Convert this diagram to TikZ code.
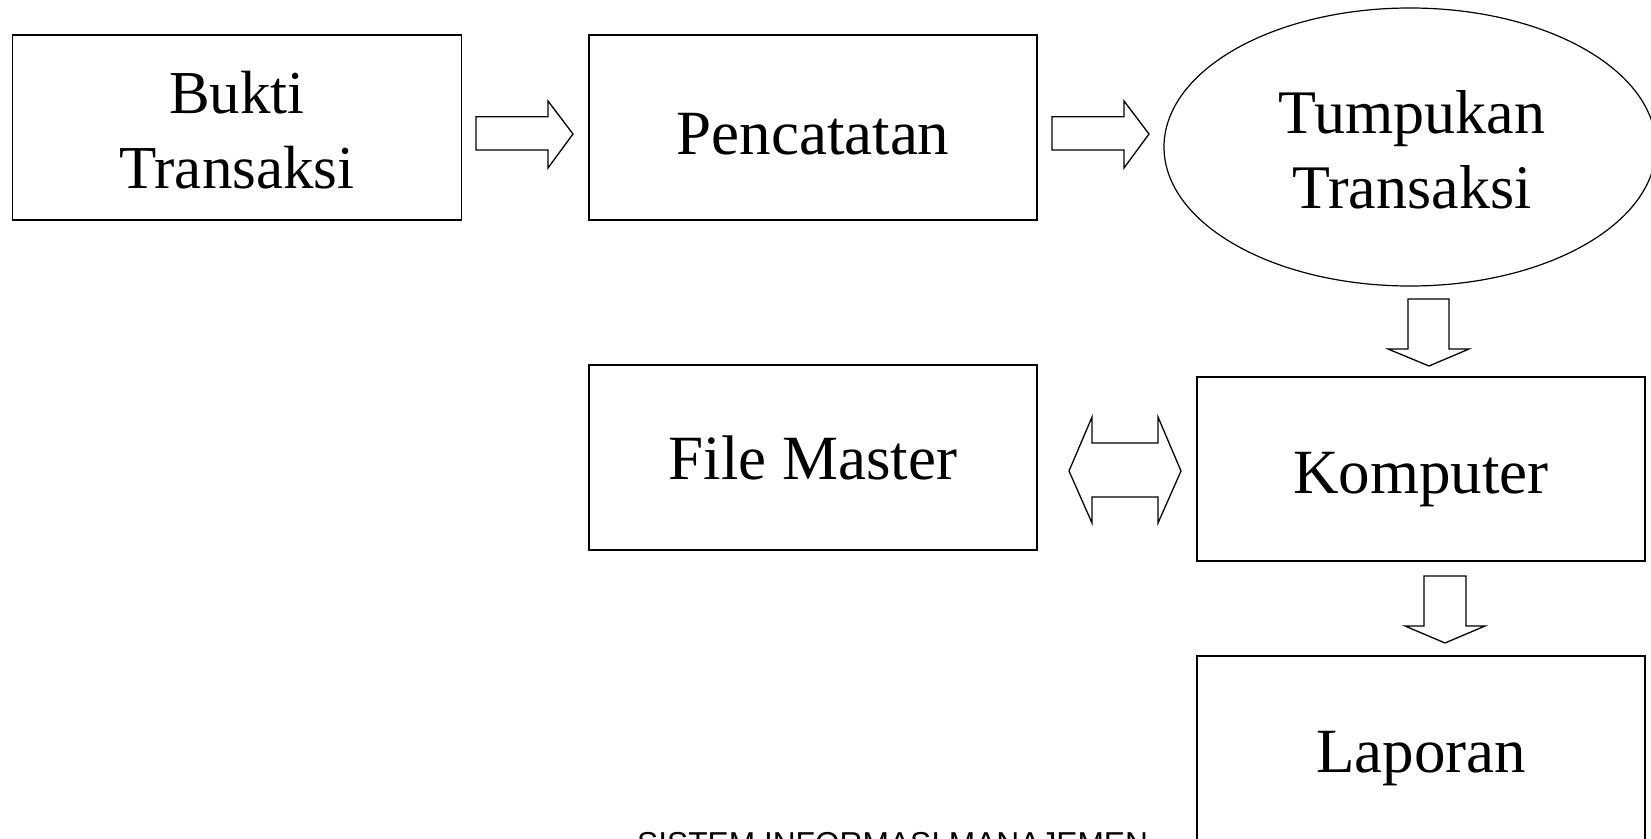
\documentclass[tikz,border=0pt]{standalone}
\usepackage{fontspec}
\setmainfont{Liberation Serif}
\newfontfamily\footfont{Liberation Sans}
\usetikzlibrary{shapes.geometric}
\begin{document}
\begin{tikzpicture}[x=1pt,y=-1pt,
  boxnode/.style={draw,line width=1.6pt,inner sep=0pt,align=center},
  blockarrow/.style={draw,line width=1.3pt,line join=miter,fill=white},
  bigtext/.style={font=\fontsize{63}{75}\selectfont}]
\useasboundingbox (0,0) rectangle (1651,838);
\clip (0,0) rectangle (1651,838);
\fill[white] (0,0) rectangle (1651,838);

% boxes
\node[boxnode,minimum width=449pt,minimum height=185pt] (bukti) at (237,127.5) {};
\node[anchor=base,font=\fontsize{61}{75}\selectfont,align=center] (buktitxt) at (237,188) {Bukti\\Transaksi};
\node[boxnode,minimum width=448pt,minimum height=185pt] (catat) at (813,127.5) {};
\node[bigtext,anchor=base] (catattxt) at (813,154) {Pencatatan};
\node[draw,line width=1.2pt,ellipse,minimum width=492pt,minimum height=278pt,inner sep=0pt] (tumpuk) at (1410,147) {};
\node[font=\fontsize{62}{75}\selectfont,anchor=base,align=center] (tumpuktxt) at (1412,208) {Tumpukan\\Transaksi};
\node[boxnode,minimum width=448pt,minimum height=185pt] (file) at (813,457.5) {};
\node[bigtext,anchor=base] (filetxt) at (813,479) {File Master};
\node[boxnode,minimum width=448pt,minimum height=184pt] (komp) at (1421,469) {};
\node[bigtext,anchor=base] (komptxt) at (1421,493) {Komputer};
\node[boxnode,minimum width=448pt,minimum height=185pt] (lap) at (1421,748.5) {};
\node[bigtext,anchor=base] (laptxt) at (1421,772) {Laporan};

% block arrows
\draw[blockarrow] (476,116.7) -- (548,116.7) -- (548,101) -- (573,134) -- (548,168) -- (548,150) -- (476,150) -- cycle;
\draw[blockarrow] (1052,116.7) -- (1124,116.7) -- (1124,101) -- (1149,134) -- (1124,168) -- (1124,150) -- (1052,150) -- cycle;
\draw[blockarrow] (1408,299) -- (1449,299) -- (1449,349) -- (1469,349) -- (1429,366) -- (1388,349) -- (1408,349) -- cycle;
\draw[blockarrow] (1424,576) -- (1466,576) -- (1466,626) -- (1485,626) -- (1445,643) -- (1405,626) -- (1424,626) -- cycle;
\draw[blockarrow] (1069,471) -- (1092,417) -- (1092,443) -- (1158,443) -- (1158,417) -- (1181,471) -- (1158,523) -- (1158,497) -- (1092,497) -- (1092,523) -- cycle;

% footer
\node[font=\footfont\fontsize{31.7}{36}\selectfont,anchor=base west,inner sep=0pt] (foot) at (637,854.7) {SISTEM INFORMASI MANAJEMEN};
\end{tikzpicture}
\end{document}
